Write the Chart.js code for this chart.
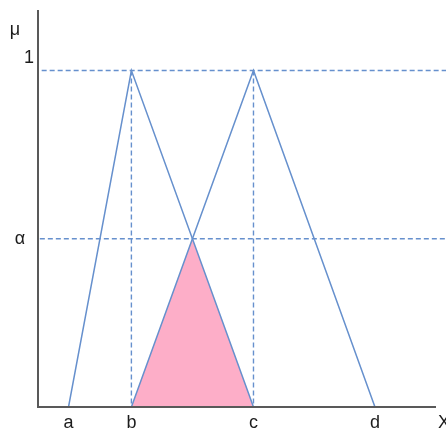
<!DOCTYPE html>
<html>
<head>
<meta charset="utf-8">
<script src="https://cdn.jsdelivr.net/npm/chart.js@4"></script>
<style>
  html, body { margin: 0; padding: 0; background: #fff; }
  #wrap { width: 446px; height: 433px; }
</style>
</head>
<body>
<div id="wrap"><canvas id="fuzzy"></canvas></div>
<script>
// x positions of the points a, b, c, d and their labels
const xNames = ['a', 'b', 'c', 'd'];
const xPoints = [0.5, 1.53, 3.53, 5.52];
// membership levels
const alphaLevel = 0.5;
const topLevel = 1;
// the two triangular sets: (a, b, c) and (b, c, d)
const triA = [0, 1, 0];
const triB = [0, 1, 0];
// the cut shaded in pink: b -> intersection -> c
const cutX = [1.53, 2.53, 3.53];
const cutY = [0, 0.5, 0];

const blue = '#6690cd';
const textColor = '#1c1c1c';
const font = '18px "Liberation Sans", Arial, sans-serif';

const pts = (xs, ys) => xs.map((x, i) => ({ x: x, y: ys[i] }));

const dashed = (data) => ({
    data: data,
    borderColor: blue,
    borderWidth: 1.4,
    borderDash: [5, 3],
    pointRadius: 0,
    fill: false,
    clip: false,
    order: 2,
});

// axes lines + text labels, placed with the chart's own scales
const labelsPlugin = {
    id: 'labels',
    afterDatasetsDraw(chart) {
        const { ctx, chartArea, scales } = chart;
        const x = scales.x, y = scales.y;
        ctx.save();
        ctx.strokeStyle = '#595959';
        ctx.lineWidth = 2;
        ctx.beginPath();
        ctx.moveTo(chartArea.left, chartArea.top);
        ctx.lineTo(chartArea.left, chartArea.bottom);
        ctx.lineTo(chartArea.right, chartArea.bottom);
        ctx.stroke();

        ctx.fillStyle = textColor;
        ctx.font = font;
        ctx.textAlign = 'center';
        ctx.textBaseline = 'middle';
        xNames.forEach((n, i) => {
            ctx.fillText(n, x.getPixelForValue(xPoints[i]), chartArea.bottom + 16);
        });
        ctx.fillText('X', chartArea.right + 8, chartArea.bottom + 16);
        ctx.fillText('μ', 15, chartArea.top + 20);
        ctx.fillText('1', 29, y.getPixelForValue(topLevel) - 13);
        ctx.fillText('α', 20, y.getPixelForValue(alphaLevel));
        ctx.restore();
    }
};

new Chart(document.getElementById('fuzzy'), {
    type: 'line',
    data: {
        datasets: [
            {
                data: pts(xPoints.slice(0, 3), triA),
                borderColor: blue,
                borderWidth: 1.5,
                pointRadius: 0,
                fill: false,
                order: 1,
            },
            {
                data: pts(xPoints.slice(1, 4), triB),
                borderColor: blue,
                borderWidth: 1.5,
                pointRadius: 0,
                fill: false,
                order: 1,
            },
            dashed([{ x: 0.06, y: topLevel }, { x: 6.75, y: topLevel }]),
            dashed([{ x: 0.03, y: alphaLevel }, { x: 6.75, y: alphaLevel }]),
            dashed([{ x: xPoints[1], y: topLevel }, { x: xPoints[1], y: 0 }]),
            dashed([{ x: xPoints[2], y: topLevel }, { x: xPoints[2], y: 0 }]),
            {
                data: pts(cutX, cutY),
                borderWidth: 0,
                borderColor: 'rgba(0,0,0,0)',
                backgroundColor: '#fdaec8',
                pointRadius: 0,
                fill: 'origin',
                order: 5,
            },
        ]
    },
    options: {
        responsive: true,
        maintainAspectRatio: false,
        animation: false,
        layout: { padding: { left: 38, right: 10, top: 10, bottom: 26 } },
        plugins: {
            legend: { display: false },
            tooltip: { enabled: false },
        },
        scales: {
            x: { type: 'linear', min: 0, max: 6.52, display: false },
            y: { type: 'linear', min: 0, max: 1.18, display: false },
        }
    },
    plugins: [labelsPlugin]
});
</script>
</body>
</html>
